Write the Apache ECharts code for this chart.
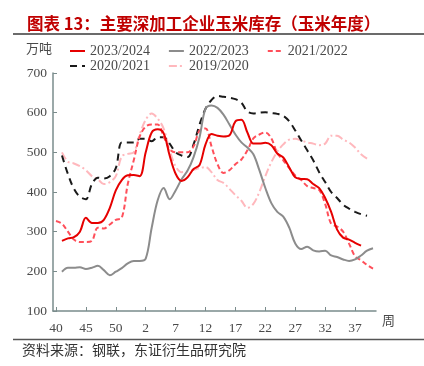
<!DOCTYPE html>
<html>
<head>
<meta charset="utf-8">
<script src="https://cdn.jsdelivr.net/npm/echarts@6/dist/echarts.min.js"></script>
<style>
  html, body { margin: 0; padding: 0; background: #fff; }
  #Chart { width: 424px; height: 366px; }
</style>
</head>
<body>
<div id="Chart"></div>
<script>
// 主要深加工企业玉米库存（玉米年度），周度，万吨

// x轴：第40周 ~ 第53周，再到次年第1 ~ 40周
const weeks = [40, 41, 42, 43, 44, 45, 46, 47, 48, 49, 50, 51, 52, 53,
  1, 2, 3, 4, 5, 6, 7, 8, 9, 10, 11, 12, 13, 14, 15, 16, 17, 18, 19, 20,
  21, 22, 23, 24, 25, 26, 27, 28, 29, 30, 31, 32, 33, 34, 35, 36, 37, 38, 39, 40];

const seriesNames = ['2023/2024', '2022/2023', '2021/2022', '2020/2021', '2019/2020'];

const y2023 = [null, 277, 283, 286, 300, 335, 322, 322, 330, 360, 404, 430, 442, 443,
  440, 500, 550, 558, 548, 492, 446, 428, 437, 458, 468, 520, 546, 542, 540, 543,
  578, 582, 550, 522, 522, 524, 518, 497, 487, 462, 437, 433, 432, 420, 410, 385,
  350, 305, 285, 280, 272, 265, null, null];

const y2022 = [null, 199, 209, 209, 210, 206, 209, 214, 203, 190, 199, 208, 220, 226,
  226, 232, 310, 379, 410, 382, 404, 432, 454, 488, 538, 610, 618, 612, 595, 570,
  545, 525, 512, 495, 455, 410, 372, 350, 338, 310, 270, 256, 262, 253, 250, 252,
  240, 236, 230, 226, 230, 240, 252, 258];

const y2021 = [327, 320, 300, 280, 274, 274, 277, 310, 308, 318, 330, 335, 420, 480,
  540, 565, 570, 570, 540, 508, 500, 500, 500, 515, 555, 560, 515, 470, 448, 455,
  470, 482, 505, 535, 545, 550, 535, 498, 480, 460, 442, 430, 415, 410, 405, 370,
  320, 313, 300, 270, 238, 228, 216, 207];

const y2020 = [null, 492, 445, 408, 388, 382, 420, 436, 434, 440, 460, 525, 525, 525,
  534, 534, 528, 538, 538, 522, 500, 492, 488, 520, 570, 610, 632, 642, 640, 638,
  634, 625, 603, 598, 600, 601, 599, 597, 592, 578, 555, 530, 505, 480, 450, 425,
  400, 385, 368, 358, 350, 344, 340, null];

const y2019 = [null, 500, 476, 472, 465, 455, 440, 432, 420, 425, 440, 490, 496, 500,
  545, 582, 598, 585, 560, 505, 465, 450, 452, 456, 460, 463, 450, 430, 423, 408,
  392, 378, 360, 370, 400, 440, 475, 502, 520, 532, 534, 530, 525, 522, 518, 522,
  542, 542, 532, 525, 512, 495, 484, null];

const yTicks = { min: 100, max: 700, interval: 100 };

const serif = '"Liberation Serif", "DejaVu Serif", serif';
const cjk = '"Noto Sans CJK SC", sans-serif';
const axisColor = '#7a8c8c';
const textColor = '#4a4a4a';

const styles = [
  { color: '#e60000', type: 'solid', width: 2 },
  { color: '#8c8c8c', type: 'solid', width: 2 },
  { color: '#ff4f5a', type: [5, 3], width: 2 },
  { color: '#1a1a1a', type: [7, 5], width: 2 },
  { color: '#ffb8bd', type: [8, 3, 2, 3], width: 2 }
];
const dataList = [y2023, y2022, y2021, y2020, y2019];

const seriesList = seriesNames.map((name, i) => ({
  name: name,
  type: 'line',
  smooth: 0.35,
  symbol: 'none',
  connectNulls: false,
  z: 10 - i,
  lineStyle: styles[i],
  itemStyle: { color: styles[i].color },
  data: dataList[i]
}));

const legendBase = {
  left: 64,
  itemWidth: 15,
  itemHeight: 10,
  itemGap: 18,
  itemStyle: { opacity: 0 },
  textStyle: { color: textColor, fontFamily: serif, fontSize: 14 }
};

const option = {
  backgroundColor: '#ffffff',
  animation: false,
  title: {
    text: '图表 13：主要深加工企业玉米库存（玉米年度）',
    left: 22,
    top: 10,
    textStyle: {
      color: '#c00000',
      fontSize: 16.5,
      fontWeight: 'bold',
      fontFamily: cjk
    }
  },
  legend: [
    Object.assign({}, legendBase, { data: seriesNames.slice(0, 3), top: 39 }),
    Object.assign({}, legendBase, { data: seriesNames.slice(3), top: 54 })
  ],
  grid: {
    left: 53,
    right: 48,
    top: 73,
    bottom: 55
  },
  xAxis: {
    type: 'category',
    boundaryGap: true,
    data: weeks,
    axisLine: { show: true, lineStyle: { color: axisColor, width: 1.5 } },
    axisTick: {
      show: true,
      inside: true,
      alignWithLabel: true,
      interval: 4,
      length: 4,
      lineStyle: { color: axisColor }
    },
    axisLabel: {
      interval: 4,
      margin: 10,
      color: textColor,
      fontFamily: serif,
      fontSize: 13.5
    },
    splitLine: { show: false }
  },
  yAxis: {
    type: 'value',
    min: yTicks.min,
    max: yTicks.max,
    interval: yTicks.interval,
    axisLine: { show: true, lineStyle: { color: axisColor, width: 1.5 } },
    axisTick: {
      show: true,
      inside: true,
      length: 4,
      lineStyle: { color: axisColor }
    },
    axisLabel: {
      margin: 6,
      color: textColor,
      fontFamily: serif,
      fontSize: 13.5
    },
    splitLine: { show: false }
  },
  graphic: [
    // 标题下横线
    { type: 'line', shape: { x1: 13, y1: 34, x2: 424, y2: 34 }, style: { stroke: '#3a3a3a', lineWidth: 1.5 } },
    // 底部横线
    { type: 'line', shape: { x1: 13, y1: 339.5, x2: 424, y2: 339.5 }, style: { stroke: '#555', lineWidth: 1.5 } },
    { type: 'text', left: 26, top: 42, style: { text: '万吨', fill: textColor, font: '13px ' + cjk } },
    { type: 'text', left: 382, top: 314, style: { text: '周', fill: textColor, font: '13px ' + cjk } },
    { type: 'text', left: 22, top: 343, style: { text: '资料来源：钢联，东证衍生品研究院', fill: '#333', font: '14px ' + cjk } }
  ],
  series: seriesList
};

const myChart = echarts.init(document.getElementById('Chart'));
myChart.setOption(option);
</script>
</body>
</html>
